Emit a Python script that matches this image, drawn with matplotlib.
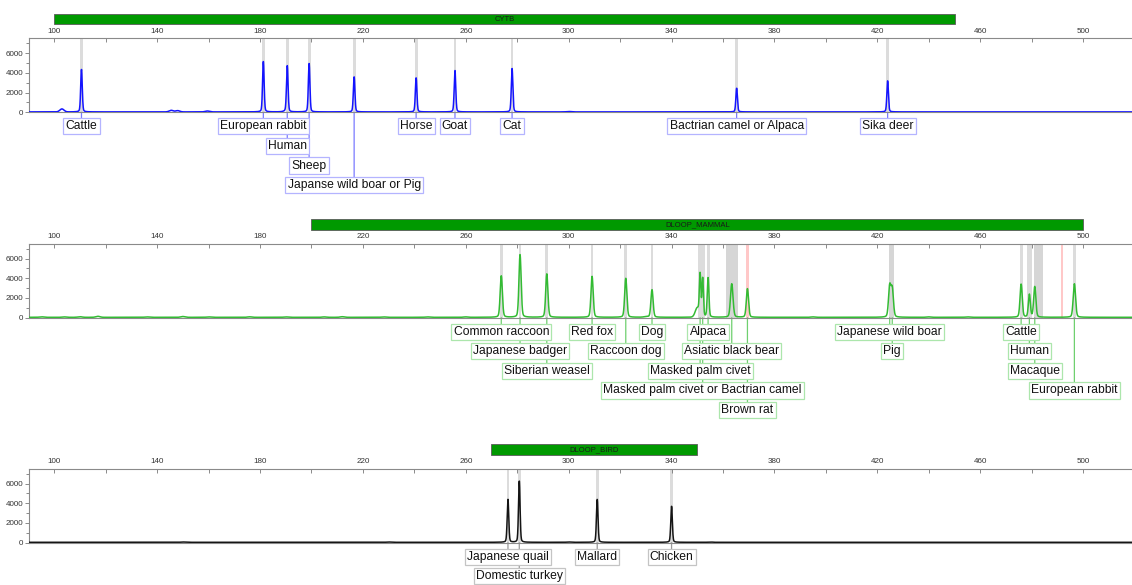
import numpy as np
import matplotlib.pyplot as plt
import matplotlib.transforms as mtransforms
from matplotlib.patches import Rectangle

plt.rcParams['font.family'] = ['Liberation Sans', 'DejaVu Sans']

# ---- CYTB panel ----
cytb_names = ['Cattle', 'European rabbit', 'Human', 'Sheep', 'Japanse wild boar or Pig',
              'Horse', 'Goat', 'Cat', 'Bactrian camel or Alpaca', 'Sika deer']
cytb_pos = [110.6, 181.3, 190.6, 199.1, 216.6, 240.7, 255.8, 278.0, 365.3, 424.0]
cytb_height = [4300, 5100, 4650, 4900, 3550, 3450, 4200, 4400, 2400, 3150]
cytb_width = [0.3] * len(cytb_pos)
cytb_noise_pos = [103.0, 145.5, 148.0, 159.5, 190.0, 300.0]
cytb_noise_height = [300, 160, 130, 90, 50, 40]
cytb_bins = cytb_pos
cytb_region = (100, 450)

# ---- DLOOP_MAMMAL panel ----
mam_names = ['Common raccoon', 'Japanese badger', 'Siberian weasel', 'Red fox', 'Raccoon dog',
             'Dog', 'Masked palm civet', 'Masked palm civet or Bactrian camel', 'Alpaca',
             'Asiatic black bear', 'Brown rat', 'Japanese wild boar', 'Pig',
             'Cattle', 'Human', 'Macaque', 'European rabbit']
mam_pos = [273.8, 281.1, 291.5, 309.1, 322.2, 332.4, 351.1, 352.1, 354.2,
           363.4, 369.5, 424.8, 425.8, 475.9, 479.1, 481.2, 496.6]
mam_height = [4200, 6350, 4400, 4150, 3950, 2800, 4100, 3900, 4000,
              3400, 2900, 3100, 2800, 3350, 2300, 3100, 3400]
mam_width = [0.42, 0.42, 0.42, 0.42, 0.42, 0.42, 0.28, 0.28, 0.32,
             0.48, 0.42, 0.45, 0.45, 0.42, 0.38, 0.42, 0.45]
mam_noise_pos = [95, 104, 110, 117, 136, 150, 160, 176, 190, 205, 212, 228, 245, 260, 330, 350.0, 395, 440, 455]
mam_noise_height = [50, 40, 60, 100, 40, 80, 40, 50, 40, 40, 60, 40, 40, 40, 50, 900, 40, 40, 40]
mam_bins = [273.8, 281.1, 291.5, 309.1, 322.2, 332.4, 350.9, 351.8, 352.5, 354.2,
            475.9, 478.9, 479.5, 496.6]
mam_wide_bins = [(361.0, 365.9), (424.4, 426.4), (480.8, 484.3)]
mam_red_bins = [(369.0, 370.0), (491.4, 492.3)]
mam_region = (200, 500)

# ---- DLOOP_BIRD panel ----
bird_names = ['Japanese quail', 'Domestic turkey', 'Mallard', 'Chicken']
bird_pos = [276.4, 280.8, 311.1, 340.0]
bird_height = [4350, 6200, 4350, 3650]
bird_width = [0.3] * len(bird_pos)
bird_noise_pos = [150, 230, 300, 355]
bird_noise_height = [30, 30, 30, 30]
bird_bins = bird_pos
bird_region = (270, 350)

x = np.linspace(90, 520, 10000)


def trace(pos, height, width, npos, nheight):
    y = np.full_like(x, 40.0)
    for p, h, w in zip(pos, height, width):
        g = np.exp(-0.5 * ((x - p) / w) ** 2)
        l = 1.0 / (1.0 + ((x - p) / (w * 1.3)) ** 2)
        y += h * (0.8 * g + 0.2 * l)
    for p, h in zip(npos, nheight):
        y += h * np.exp(-0.5 * ((x - p) / 0.8) ** 2)
    return y


fig = plt.figure(figsize=(11.32, 5.85), dpi=100)
px = 1.0 / 585
ax_h = 74 * px
left = 29 / 1132
panels = [
    dict(y0=1 - 112.3 * px, name='CYTB', region=cytb_region, names=cytb_names, pos=cytb_pos,
         height=cytb_height, width=cytb_width, npos=cytb_noise_pos, nh=cytb_noise_height,
         bins=cytb_bins, wide=[], red=[], color='#1414ff', edge='#b4b4ff', link='#7a7aff'),
    dict(y0=1 - 317.7 * px, name='DLOOP_MAMMAL', region=mam_region, names=mam_names, pos=mam_pos,
         height=mam_height, width=mam_width, npos=mam_noise_pos, nh=mam_noise_height,
         bins=mam_bins, wide=mam_wide_bins, red=mam_red_bins, color='#33bb33', edge='#ace6ac',
         link='#6fd06f'),
    dict(y0=1 - 542.7 * px, name='DLOOP_BIRD', region=bird_region, names=bird_names, pos=bird_pos,
         height=bird_height, width=bird_width, npos=bird_noise_pos, nh=bird_noise_height,
         bins=bird_bins, wide=[], red=[], color='#151515', edge='#c4c4c4', link='#9a9a9a'),
]

all_labels = []
for pn in panels:
    ax = fig.add_axes([left, pn['y0'], 1 - left, ax_h])
    ax.set_xlim(90.2, 519.0)
    ax.set_ylim(0, 7500)
    for b in pn['bins']:
        ax.axvspan(b - 0.55, b + 0.55, color='#dcdcdc', lw=0, zorder=0)
    for a, b in pn['wide']:
        ax.axvspan(a, b, color='#d6d6d6', lw=0, zorder=0)
    for a, b in pn['red']:
        ax.axvspan(a, b, color='#ffc8c8', lw=0, zorder=0)
    ax.plot(x, trace(pn['pos'], pn['height'], pn['width'], pn['npos'], pn['nh']),
            color=pn['color'], lw=1.1, zorder=3)

    ax.xaxis.tick_top()
    ax.set_xticks(np.arange(100, 520, 40))
    ax.set_xticks(np.arange(120, 520, 40), minor=True)
    ax.set_yticks([0, 2000, 4000, 6000])
    ax.set_yticks([1000, 3000, 5000, 7000], minor=True)
    ax.tick_params(axis='x', which='both', direction='in', length=3, width=0.6,
                   color='#777777', labelsize=5.8, labelcolor='#333333', pad=2.5)
    ax.tick_params(axis='y', which='both', direction='out', width=0.6,
                   color='#777777', labelsize=5.8, labelcolor='#333333', pad=1)
    ax.tick_params(axis='y', which='major', length=3)
    ax.tick_params(axis='y', which='minor', length=2)
    ax.spines['right'].set_visible(False)
    for s in ['top', 'left', 'bottom']:
        ax.spines[s].set_color('#8a8a8a')
        ax.spines[s].set_linewidth(0.8)
    ax.patch.set_alpha(0)

    # marker region bar
    tr = mtransforms.blended_transform_factory(ax.transData, ax.transAxes)
    a, b = pn['region']
    ax.add_patch(Rectangle((a, 1.19), b - a, 0.14, transform=tr, clip_on=False,
                           fc='#009900', ec='#5a5a5a', lw=0.6))
    ax.text((a + b) / 2, 1.26, pn['name'], transform=tr, ha='center', va='center',
            fontsize=5.5, color='#1a1a1a')

    for nm, p in zip(pn['names'], pn['pos']):
        t = ax.annotate(nm, xy=(p, 0), xytext=(0, -14 * 0.72), textcoords='offset points',
                        ha='center', va='center', fontsize=8.7, color='#111111',
                        bbox=dict(boxstyle='square,pad=0.18', fc='white', ec=pn['edge'], lw=0.9),
                        annotation_clip=False, zorder=6)
        all_labels.append((ax, p, t, pn['link']))

# greedy row layout of labels so boxes don't overlap
fig.canvas.draw()
renderer = fig.canvas.get_renderer()
rows = {}
for ax, p, t, link in sorted(all_labels, key=lambda r: (id(r[0]), r[1])):
    ext = t.get_bbox_patch().get_window_extent(renderer)
    x0, x1 = ext.x0 - 1, ext.x1 + 1
    placed = rows.setdefault(id(ax), [])
    r = 0
    while any(rr == r and not (x1 <= a0 or x0 >= a1) for rr, a0, a1 in placed):
        r += 1
    placed.append((r, x0, x1))
    off = -(14 + 19.6 * r) * 0.72
    t.xyann = (0, off)
    ax.annotate('', xy=(p, 0), xytext=(0, off), textcoords='offset points',
                arrowprops=dict(arrowstyle='-', color=link, lw=0.9, shrinkA=0, shrinkB=0),
                annotation_clip=False, zorder=2)

plt.savefig('out.png', dpi=100)
